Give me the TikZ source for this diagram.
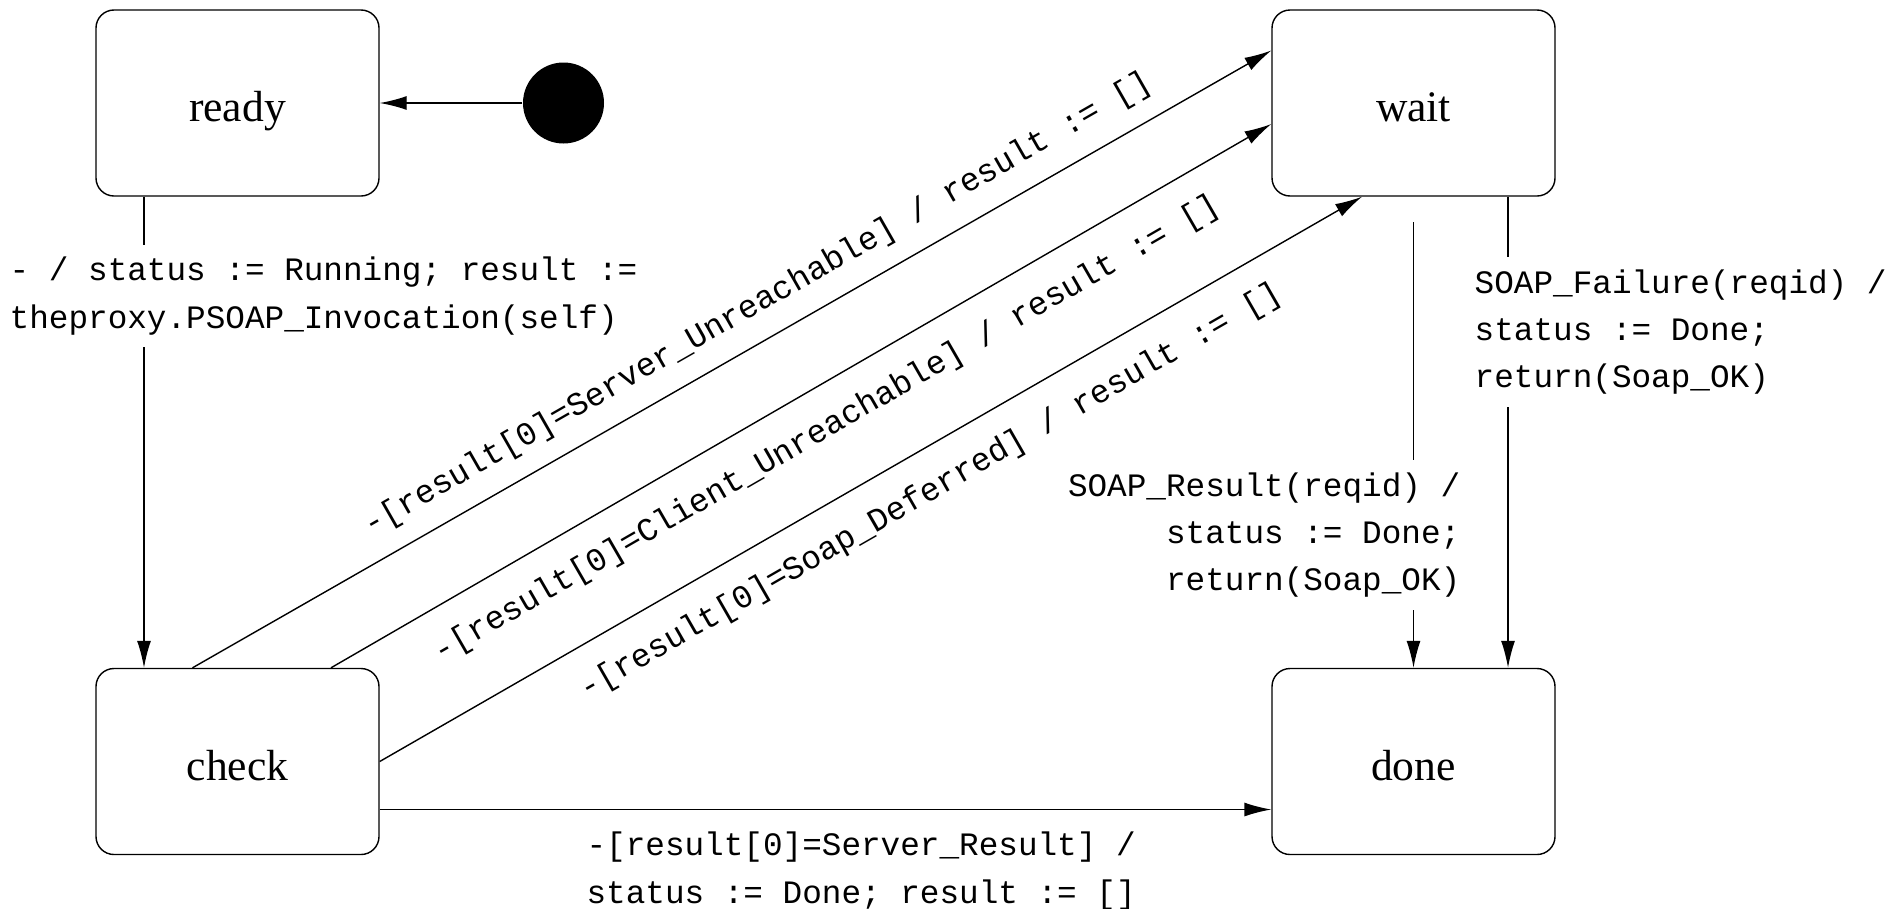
\documentclass[tikz,border=0pt]{standalone}
\usepackage{fontspec}
\setmainfont{Liberation Serif}
\setmonofont{Liberation Mono}
\usetikzlibrary{arrows.meta}
\tikzset{state/.style={draw,rounded corners=1.8mm,minimum width=2.83cm,minimum height=1.86cm,inner sep=0pt,
    text height=10.6pt,text depth=0pt,font=\fontsize{12.4}{14}\selectfont},
  trans/.style={font=\ttfamily\fontsize{9.3}{13.5}\selectfont},
  cover/.style={trans,fill=white,inner xsep=0pt,inner ysep=1.2mm},
  >={Latex[length=2.7mm,width=1.4mm]}}

\begin{document}
\begin{tikzpicture}
\useasboundingbox (0,0) rectangle (18.86,9.08);
      \node[state] (ready) at (2.375,8.05) {ready};
      \node[state] (wait) at (14.135,8.05) {wait};
      \node[state] (check) at (2.375,1.465) {check};
      \node[state] (done) at (14.135,1.465) {done};
      \node[circle,fill,minimum size=8.1mm,inner sep=0pt] (init) at (5.635,8.05) {};
      \coordinate (wtop) at (14.135,6.86);

\draw[->] (init) -- (ready);
\draw[->] ([xshift=-9.35mm]ready.south) -- ([xshift=-9.35mm]check.north);
\draw[->] ([xshift=-4.5mm]check.north) -- node[trans,sloped,above=0.7mm,pos=0.54] (t1) {-[result[0]=Server\_Unreachable] / result := []} ([yshift=5.25mm]wait.west);
\draw[->] ([xshift=9.35mm]check.north) -- node[trans,sloped,below=1.4mm,pos=0.505] (t2) {-[result[0]=Client\_Unreachable] / result := []} ([yshift=-2.1mm]wait.west);
\draw[->] (check.east) -- node[trans,sloped,below=1.3mm,pos=0.54] (t3) {-[result[0]=Soap\_Deferred] / result := []} ([xshift=-5.15mm]wait.south);
\draw[->] ([yshift=-4.8mm]check.east) -- node[trans,align=center,below=1mm,pos=0.54] (t4) {-[result[0]=Server\_Result] /\\status := Done; result := []} ([yshift=-4.8mm]done.west);
\draw[->] (wtop) -- (done);
\draw[->] ([xshift=9.45mm]wait.south) -- ([xshift=9.45mm]done.north);

      \node[cover,anchor=west,align=left] (t0) at (0.09,6.12) {- / status := Running; result :=\\theproxy.PSOAP\_Invocation(self)};
      \node[cover,anchor=east,align=right] (t5) at (14.61,3.73) {SOAP\_Result(reqid) /\\status := Done;\\return(Soap\_OK)};
      \node[cover,anchor=west,align=left] (t6) at (14.74,5.76) {SOAP\_Failure(reqid) /\\status := Done;\\return(Soap\_OK)};
    \end{tikzpicture}
\end{document}
